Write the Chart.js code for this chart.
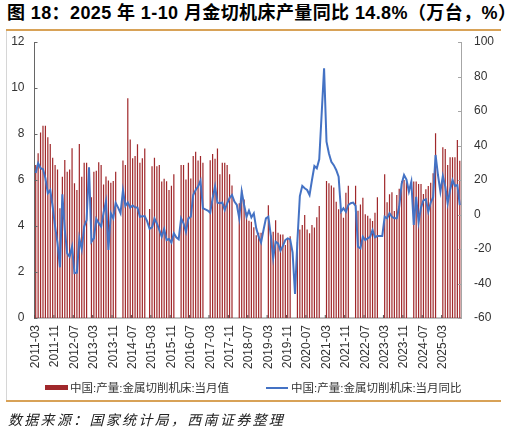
<!DOCTYPE html>
<html>
<head>
<meta charset="utf-8">
<script src="https://cdn.jsdelivr.net/npm/chart.js@4.4.1/dist/chart.umd.min.js"></script>
<style>
  body { margin: 0; background: #fff; }
  #wrap { position: relative; width: 507px; height: 433px; overflow: hidden; font-family: "Liberation Sans", "Noto Sans CJK SC", sans-serif; }
  #chartBox { position: absolute; left: 0; top: 0; width: 507px; height: 433px; }
  .title { position: absolute; left: 7px; top: 3px; font-size: 18px; line-height: 20px; letter-spacing: 0.4px; font-weight: bold; color: #000; white-space: nowrap; }
  .rule { position: absolute; left: 6px; width: 495px; height: 2px; background: #d8a257; }
  .vline { position: absolute; left: 6px; top: 31px; width: 1px; height: 369px; background: #d6d6d6; }
  .legend { position: absolute; top: 379px; font-size: 11.5px; line-height: 18px; color: #333; white-space: nowrap; }
  .swatch { position: absolute; }
  .source { position: absolute; left: 8px; top: 410px; font-size: 14px; line-height: 20px; letter-spacing: 2.3px; font-style: italic; color: #222; white-space: nowrap; }
</style>
</head>
<body>
<div id="wrap">
  <div class="title">图 18：2025 年 1-10 月金切机床产量同比 14.8%（万台，%）</div>
  <div class="rule" style="top:29px"></div>
  <div class="vline"></div>
  <div id="chartBox"><canvas id="chartjsMixed"></canvas></div>
  <div class="swatch" style="left:45px;top:385px;width:23px;height:5px;background:#a0282b"></div>
  <div class="legend" style="left:70px">中国:产量:金属切削机床:当月值</div>
  <div class="swatch" style="left:266px;top:387px;width:22px;height:2px;background:#4472c4"></div>
  <div class="legend" style="left:291px">中国:产量:金属切削机床:当月同比</div>
  <div class="rule" style="top:400px"></div>
  <div class="source">数据来源：国家统计局，西南证券整理</div>
</div>

<script>
'use strict';

var colors = {
  bar        : "#a0282b",
  line       : "#4472c4",
  tickText   : "#333",
  leftAxis   : "#666",
  rightAxis  : "#a6a6a6",
  bottomAxis : "#bfbfbf"
}

var fontFamily = "'Liberation Sans', 'Noto Sans CJK SC', sans-serif"

// months run 2011-03 .. 2025-10
var startYear = 2011, startMonth = 3, endYear = 2025, endMonth = 10;

// x labels that are shown (every 8th month)
var xTickLabels = ["2011-03", "2011-11", "2012-07", "2013-03", "2013-11", "2014-07", "2015-03", "2015-11",
  "2016-07", "2017-03", "2017-11", "2018-07", "2019-03", "2019-11", "2020-07", "2021-03",
  "2021-11", "2022-07", "2023-03", "2023-11", "2024-07", "2025-03"];

// 当月值, 万台 (one row per year, Jan..Dec)
var output = [
  /*2011*/ 6.65, 7.16, 8.06, 8.36, 8.36, 7.86, 7.57, 6.97, 6.65, 6.46,
  /*2012*/ 4.77, 6.14, 6.87, 6.36, 6.46, 7.38, 5.86, 5.57, 7.57, 6.14, 6.75, 6.75,
  /*2013*/ null, 5.25, 6.36, 6.40, 6.77, 6.65, 5.80, 6.15, 5.98, 5.88, 5.96, 6.36,
  /*2014*/ null, null, 6.85, 6.65, 9.55, 7.76, 6.95, 7.04, 7.55, 6.75, 6.95, 7.37,
  /*2015*/ null, 4.74, 6.60, 6.97, 6.60, 6.65, 5.93, 6.05, 5.95, 5.57, 5.75, 6.25,
  /*2016*/ null, null, 6.65, 6.65, 6.02, 6.75, 6.07, 7.04, 7.23, 6.85, 7.04, 6.75,
  /*2017*/ null, null, 6.86, 7.13, 6.92, 7.37, 6.25, 6.75, 6.75, 6.65, 6.25, 5.76,
  /*2018*/ null, null, 4.99, 5.57, 5.15, 4.59, 4.23, 4.18, 3.95, 3.60, 3.71, 3.71,
  /*2019*/ null, null, 4.90, 3.60, 3.75, 4.25, 3.71, 3.63, 3.63, 3.17, 3.45, 3.55,
  /*2020*/ null, null, 3.30, 3.85, 4.04, 4.48, 3.85, 3.68, 4.04, 3.93, 4.38, 4.87,
  /*2021*/ null, null, 5.96, 5.86, 5.76, 5.67, 5.05, 4.73, 4.59, 4.36, 5.45, 5.75,
  /*2022*/ null, null, 5.75, 4.66, 4.94, 5.23, 4.51, 4.45, 4.33, 4.22, 4.58, 5.25,
  /*2023*/ null, null, 6.25, 5.03, 5.38, 5.47, 4.65, 5.35, 5.62, 5.95, 6.00, 5.90,
  /*2024*/ null, null, 5.93, 5.93, 5.83, 5.83, 5.39, 5.60, 5.74, 5.88, 6.29, 8.03,
  /*2025*/ null, null, 7.42, 7.35, 6.65, 6.99, 6.99, 6.99, 7.74, 6.84
];

// 当月同比, %
var yoy = [
  /*2011*/ 24, 29.7, 26.8, 26.2, 21, 12.3, 14.2, 4.5, -7, -16.6,
  /*2012*/ -30.6, 11.7, -9, -22.5, -24.4, -18.7, -34, -33.7, -13.8, -20.2, -7, -3.2,
  /*2013*/ 27.4, -15.8, -13.8, -2.5, -5, -7, 1, 7.6, -20.6, 0.7, -2.2, 6.7,
  /*2014*/ 4, 0.8, 14, 5, 7, 4, 5.2, 4.2, 4, -1.3, -1, -1,
  /*2015*/ -4, -8.3, -7.5, -2.4, -5.2, -9, -12.9, -8.5, -14.8, -14.2, -16.3, -10.9,
  /*2016*/ -13.2, -14.4, -2.2, -5.1, -10, -2.2, -1.3, 11.3, 14.2, 16.2, 19.6, 3.6,
  /*2017*/ 3, 2.3, 1, 9.4, 16.2, 6.9, 6.5, 6.9, 2.6, 6.5, 9.5, 11.3,
  /*2018*/ 7.5, 5.5, -2.2, 13.3, 5.5, -1.3, 2.3, -1.7, 0.7, -8, -12.9, -16.3,
  /*2019*/ -9, -2.2, -1.3, -11.9, -25.4, -15.8, -16.8, -21, -18.3, -14.8, -13.8, -14.4,
  /*2020*/ -22, -46, -15, 10.7, 16.6, 15.2, 14.2, 11.3, 20, 28.1, 26.8, 32,
  /*2021*/ null, 84.7, 42.2, 35.4, 30.6, 28.6, 25.8, 21.9, 1.6, 3.6, 1.6, 5.5,
  /*2022*/ 6.5, 6.9, 5, -18.7, -19.6, -12.9, -14.8, -13.8, -12.9, -9, -13.2, -12.5,
  /*2023*/ -12.5, -12.5, -1.3, -2.2, 0.7, -1.3, -2.2, -2.2, 4.5, 17.7, 22.9, 20.3,
  /*2024*/ 13.3, 19, -6, 10.3, -4.5, 4, 8.3, 8.8, 1.6, 6.9, 10, 34.5,
  /*2025*/ 22.9, 13.3, 22.3, 16.2, 6.5, 14.2, 20, 16.6, 17.1, 5.5
];

var months = [];
for (var y = startYear; y <= endYear; y++) {
  for (var m = (y === startYear ? startMonth : 1); m <= (y === endYear ? endMonth : 12); m++) {
    months.push(y + "-" + (m < 10 ? "0" + m : m));
  }
}

// small tick marks drawn on the inside of the axes
var innerTicks = {
  id: 'innerTicks',
  afterDatasetsDraw: function(chart) {
    var ctx = chart.ctx, area = chart.chartArea;
    var sy = chart.scales.y, sy1 = chart.scales.y1, sx = chart.scales.x;
    ctx.save();
    ctx.lineWidth = 1;
    ctx.strokeStyle = colors.leftAxis;
    sy.ticks.forEach(function(t) {
      var py = Math.round(sy.getPixelForValue(t.value)) + 0.5;
      ctx.beginPath(); ctx.moveTo(area.left, py); ctx.lineTo(area.left + 3, py); ctx.stroke();
    });
    ctx.strokeStyle = colors.rightAxis;
    sy1.ticks.forEach(function(t) {
      var py = Math.round(sy1.getPixelForValue(t.value)) + 0.5;
      ctx.beginPath(); ctx.moveTo(area.right, py); ctx.lineTo(area.right - 3, py); ctx.stroke();
    });
    ctx.strokeStyle = "#555";
    var half = (sx.getPixelForTick(1) - sx.getPixelForTick(0)) / 2;
    months.forEach(function(lbl, i) {
      if (xTickLabels.indexOf(lbl) < 0) return;
      var px = sx.getPixelForTick(i) - half;
      ctx.beginPath(); ctx.moveTo(px, area.bottom); ctx.lineTo(px, area.bottom - 3); ctx.stroke();
    });
    ctx.restore();
  }
};

new Chart(document.getElementById('chartjsMixed'), {
  type: 'bar',
  data: {
    labels: months,
    datasets: [
      {
        type: 'line',
        label: "中国:产量:金属切削机床:当月同比",
        data: yoy,
        yAxisID: 'y1',
        borderColor: colors.line,
        borderWidth: 2,
        pointRadius: 0,
        tension: 0,
        spanGaps: true,
        order: 0
      },
      {
        type: 'bar',
        label: "中国:产量:金属切削机床:当月值",
        data: output,
        yAxisID: 'y',
        backgroundColor: colors.bar,
        barPercentage: 0.5,
        categoryPercentage: 1.0,
        order: 1
      }
    ]
  },
  plugins: [innerTicks],
  options: {
    responsive: true,
    maintainAspectRatio: false,
    animation: false,
    layout: { padding: { top: 42, left: 0, right: 0, bottom: 0 } },
    plugins: {
      legend: { display: false },
      tooltip: { enabled: false }
    },
    scales: {
      x: {
        grid: { display: false, drawTicks: false },
        border: { color: colors.bottomAxis, width: 2 },
        afterFit: function(scale) { scale.height = 115; },
        ticks: {
          autoSkip: false,
          minRotation: 90,
          maxRotation: 90,
          padding: 7,
          color: colors.tickText,
          font: { size: 12, family: fontFamily },
          callback: function(val, idx) {
            var lbl = months[idx];
            return xTickLabels.indexOf(lbl) >= 0 ? lbl : '';
          }
        }
      },
      y: {
        position: 'left',
        min: 0,
        max: 12,
        grid: { display: false, drawTicks: false },
        border: { color: colors.leftAxis, width: 1 },
        afterFit: function(scale) { scale.width = 34.5; },
        ticks: {
          stepSize: 2,
          padding: 10,
          color: colors.tickText,
          font: { size: 12, family: fontFamily }
        }
      },
      y1: {
        position: 'right',
        min: -60,
        max: 100,
        grid: { display: false, drawTicks: false },
        border: { color: colors.rightAxis, width: 1 },
        afterFit: function(scale) { scale.width = 46; },
        ticks: {
          stepSize: 20,
          padding: 13,
          color: colors.tickText,
          font: { size: 12, family: fontFamily }
        }
      }
    }
  }
});
</script>
</body>
</html>
